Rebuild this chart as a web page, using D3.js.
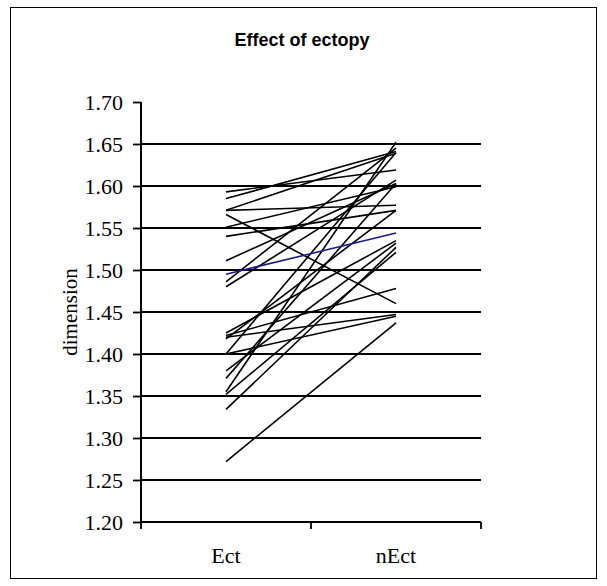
<!DOCTYPE html>
<html>
<head>
<meta charset="utf-8">
<script src="https://cdn.jsdelivr.net/npm/d3@7"></script>
<style>
  body { margin: 0; background: #fff; }
</style>
</head>
<body>
<div id="area"></div>
<script>
const groups = ["Ect", "nEct"]
// one entry per subject
const ectValues = [1.593, 1.585, 1.571, 1.571, 1.566, 1.551, 1.540, 1.511, 1.495, 1.486, 1.480, 1.425, 1.422, 1.420, 1.418, 1.400, 1.400, 1.380, 1.371, 1.355, 1.352, 1.334, 1.272]
const nEctValues = [1.619, 1.641, 1.639, 1.577, 1.460, 1.599, 1.571, 1.603, 1.544, 1.645, 1.607, 1.535, 1.478, 1.447, 1.571, 1.445, 1.640, 1.532, 1.603, 1.652, 1.521, 1.527, 1.437]
const blueIndex = 8
const yTicks = [1.20, 1.25, 1.30, 1.35, 1.40, 1.45, 1.50, 1.55, 1.60, 1.65, 1.70]
const gridValues = [1.25, 1.30, 1.35, 1.40, 1.45, 1.50, 1.55, 1.60, 1.65]

const width = 607
const height = 586
const plotLeft = 141, plotRight = 481, plotTop = 102, plotBottom = 522
const serif = "Liberation Serif, Times New Roman, serif"

const x = d3.scalePoint().domain(groups).range([plotLeft, plotRight]).padding(0.5)
const xBand = d3.scaleBand().domain(groups).range([plotLeft, plotRight])
const y = d3.scaleLinear().domain([1.20, 1.70]).range([plotBottom, plotTop])

const svg = d3.select("#area").append("svg")
  .attr("width", width)
  .attr("height", height)

svg.append("rect")
  .attr("x", 10.5)
  .attr("y", 7.5)
  .attr("width", 586)
  .attr("height", 571)
  .attr("fill", "white")
  .attr("stroke", "black")
  .attr("stroke-width", 1)

svg.append("text")
  .attr("x", 302)
  .attr("y", 46)
  .attr("text-anchor", "middle")
  .attr("font-family", "Liberation Sans, Arial, sans-serif")
  .attr("font-weight", "bold")
  .attr("font-size", 18)
  .text("Effect of ectopy")

// gridlines
svg.append("g")
  .selectAll("line")
  .data(gridValues)
  .join("line")
  .attr("x1", plotLeft)
  .attr("x2", plotRight)
  .attr("y1", d => y(d))
  .attr("y2", d => y(d))
  .attr("stroke", "black")
  .attr("stroke-width", 1.8)

// subject lines
const pairs = ectValues.map((v, i) => ({ect: v, nect: nEctValues[i], i: i}))
const line = d3.line().x(d => x(d[0])).y(d => y(d[1]))

svg.append("g")
  .attr("fill", "none")
  .selectAll("path")
  .data(pairs.filter(d => d.i !== blueIndex).concat(pairs.filter(d => d.i === blueIndex)))
  .join("path")
  .attr("d", d => line([["Ect", d.ect], ["nEct", d.nect]]))
  .attr("stroke", d => d.i === blueIndex ? "#1a1a8c" : "black")
  .attr("stroke-width", 1.6)

// y axis
const yAxis = svg.append("g")
  .attr("transform", `translate(${plotLeft},0)`)
  .call(d3.axisLeft(y).tickValues(yTicks).tickFormat(d3.format(".2f")).tickSize(8).tickPadding(10))
yAxis.select(".domain").attr("stroke-width", 2).attr("d", `M0,${plotTop}V${plotBottom}`)
yAxis.selectAll(".tick line").attr("stroke-width", 1.8)
yAxis.selectAll("text")
  .attr("font-family", serif)
  .attr("font-size", 22)
  .attr("fill", "black")

// x axis
const xAxis = svg.append("g")
  .attr("transform", `translate(0,${plotBottom})`)
xAxis.append("line")
  .attr("x1", plotLeft)
  .attr("x2", plotRight)
  .attr("stroke", "black")
  .attr("stroke-width", 2)
xAxis.selectAll(".xtick")
  .data(groups.map(g => xBand(g)).concat([xBand(groups[1]) + xBand.bandwidth()]))
  .join("line")
  .attr("class", "xtick")
  .attr("x1", d => d)
  .attr("x2", d => d)
  .attr("y1", 0)
  .attr("y2", 7)
  .attr("stroke", "black")
  .attr("stroke-width", 1.8)
xAxis.selectAll(".xlabel")
  .data(groups)
  .join("text")
  .attr("class", "xlabel")
  .attr("x", d => x(d))
  .attr("y", 41)
  .attr("text-anchor", "middle")
  .attr("font-family", serif)
  .attr("font-size", 22)
  .text(d => d)

svg.append("text")
  .attr("transform", `translate(77,${(plotTop + plotBottom) / 2}) rotate(-90)`)
  .attr("text-anchor", "middle")
  .attr("font-family", serif)
  .attr("font-size", 21)
  .text("dimension")
</script>
</body>
</html>
